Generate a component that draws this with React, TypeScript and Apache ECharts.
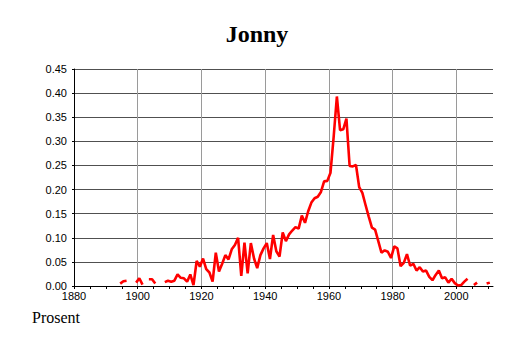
import React, { useEffect, useRef } from "react";
import * as echarts from "echarts";

const TITLE = "Jonny";
const Y_LABEL = "Prosent";
const START_YEAR = 1880;
const END_YEAR = 2010;
// Share of newborns given the name, per year from 1880 (null = no data)
const values: (number | null)[] = [
  // 1880-1889
  null, null, null, null, null, null, null, null, null, null,
  // 1890-1899
  null, null, null, null, 0.005, 0.010, 0.011, null, null, 0.007,
  // 1900-1909
  0.016, 0.003, null, 0.014, 0.014, 0.005, null, null, 0.008, 0.011,
  // 1910-1919
  0.009, 0.011, 0.024, 0.017, 0.016, 0.009, 0.024, 0.002, 0.052, 0.040,
  // 1920-1929
  0.057, 0.035, 0.028, 0.009, 0.069, 0.030, 0.046, 0.064, 0.055, 0.076,
  // 1930-1939
  0.085, 0.100, 0.021, 0.090, 0.026, 0.089, 0.057, 0.037, 0.064, 0.078,
  // 1940-1949
  0.089, 0.056, 0.106, 0.072, 0.061, 0.111, 0.093, 0.107, 0.115, 0.122,
  // 1950-1959
  0.119, 0.146, 0.131, 0.155, 0.173, 0.182, 0.185, 0.195, 0.217, 0.218,
  // 1960-1969
  0.235, 0.310, 0.393, 0.323, 0.325, 0.347, 0.249, 0.248, 0.251, 0.205,
  // 1970-1979
  0.193, 0.168, 0.144, 0.121, 0.117, 0.093, 0.069, 0.074, 0.071, 0.058,
  // 1980-1989
  0.082, 0.078, 0.041, 0.048, 0.066, 0.042, 0.046, 0.032, 0.039, 0.030,
  // 1990-1999
  0.032, 0.019, 0.012, 0.023, 0.032, 0.016, 0.018, 0.007, 0.015, 0.006,
  // 2000-2010
  0.001, 0.002, 0.009, 0.015, null, 0.002, 0.007, null, null, 0.005, 0.007,
];
const years: number[] = [];
for (let y = START_YEAR; y <= END_YEAR; y++) years.push(y);

const X_MIN = 1880;
const X_MAX = 2011.5;
const Y_MAX = 0.45;

export default function App() {
  const ref = useRef<HTMLDivElement>(null);
  useEffect(() => {
    document.body.style.margin = "0";
    if (!ref.current) return;
    const chart = echarts.init(ref.current, null, { renderer: "svg" });
    // points are placed at mid-year
    const data = years.map((y, i) => [y + 0.5, values[i]]);
    chart.setOption({
      animation: false,
      backgroundColor: "#ffffff",
      title: {
        text: TITLE,
        left: "center",
        top: 22,
        padding: 0,
        textStyle: {
          fontFamily: "Liberation Serif",
          fontWeight: "bold",
          fontSize: 24,
          color: "#000",
        },
      },
      graphic: [
        {
          type: "text",
          left: 32,
          top: 309,
          style: {
            text: Y_LABEL,
            font: "16px 'Liberation Serif'",
            fill: "#000",
          },
        },
      ],
      grid: { left: 74, right: 21, top: 69, bottom: 57, containLabel: false },
      xAxis: [
        {
          type: "value",
          min: X_MIN,
          max: X_MAX,
          interval: 5,
          axisLine: { show: true, lineStyle: { color: "#000", width: 1 } },
          axisTick: { show: true, length: 3, lineStyle: { color: "#000" } },
          axisLabel: {
            fontFamily: "Liberation Sans",
            fontSize: 11,
            color: "#000",
            margin: 4,
            showMaxLabel: false,
            formatter: (v: number) => (v % 20 === 0 ? String(v) : ""),
          },
          splitLine: { show: false },
        },
        {
          type: "value",
          position: "top",
          min: X_MIN,
          max: X_MAX,
          interval: 20,
          axisLine: { show: false },
          axisTick: { show: false },
          axisLabel: { show: false },
          splitLine: {
            show: true,
            showMaxLine: false,
            lineStyle: { color: "#9a9a9a", width: 1 },
          },
        },
      ],
      yAxis: {
        type: "value",
        min: 0,
        max: Y_MAX,
        interval: 0.05,
        axisLine: { show: true, lineStyle: { color: "#000", width: 1 } },
        axisTick: { show: true, length: 2, lineStyle: { color: "#000" } },
        axisLabel: {
          fontFamily: "Liberation Sans",
          fontSize: 11,
          color: "#000",
          margin: 7,
          formatter: (v: number) => v.toFixed(2),
        },
        splitLine: { show: true, lineStyle: { color: "#505050", width: 1 } },
      },
      series: [
        {
          type: "line",
          xAxisIndex: 0,
          data,
          showSymbol: false,
          symbol: "none",
          connectNulls: false,
          lineStyle: { color: "#ff0000", width: 2.6 },
          z: 5,
        },
      ],
    });
    return () => chart.dispose();
  }, []);
  return <div ref={ref} style={{ width: 514, height: 343 }} />;
}
